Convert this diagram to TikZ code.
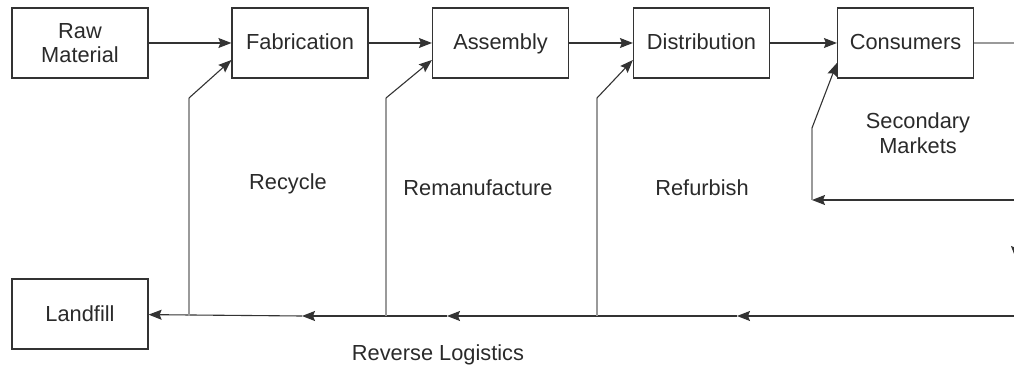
\documentclass[tikz,border=0pt]{standalone}
\usepackage{fontspec}
\setmainfont{Liberation Sans}
\usetikzlibrary{arrows.meta}

\definecolor{ink}{HTML}{2A2A2A}
\definecolor{wire}{HTML}{333333}
\definecolor{pale}{HTML}{9A9A9A}

\tikzset{
  stage/.style={draw=wire, line width=1.2pt, minimum width=136pt, minimum height=70pt,
                inner sep=0pt, align=center, text=ink,
                text height=15.6pt, text depth=1.6pt},
  twoline/.style={text height=, text depth=},
  label/.style={text=ink, align=center, inner sep=0pt},
  flow/.style={draw=wire, line width=1.1pt, -{Stealth[length=13pt,width=10pt,inset=2pt]}},
  plain/.style={draw=wire, line width=1.1pt},
  faint/.style={draw=pale, line width=1.1pt},
}

\begin{document}
\begin{tikzpicture}[x=1pt, y=-1pt, font=\fontsize{21.8}{24.5}\selectfont]
  \useasboundingbox (0,0) rectangle (1014,371);

  % forward supply chain
  \node[stage, twoline] (raw) at (80,43) {Raw\\Material};
  \node[stage] (fab)  at (300,43)   {Fabrication};
  \node[stage] (asm)  at (500.5,43) {Assembly};
  \node[stage] (dist) at (701.5,43) {Distribution};
  \node[stage] (cons) at (905.5,43) {Consumers};
  \node[stage] (land) at (80,314)   {Landfill};

  \draw[flow] (raw) -- (fab);
  \draw[flow] (fab) -- (asm);
  \draw[flow] (asm) -- (dist);
  \draw[flow] (dist) -- (cons);

  % return loop on the right-hand side
  \coordinate (ne) at (1016,43);
  \coordinate (vm) at (1016,259);
  \coordinate (sm) at (1016,200);
  \coordinate (se) at (1016,316);
  \draw[faint] (cons) -- (ne);
  \draw[flow] (ne) -- (vm);
  \draw[plain] (vm) -- (se);

  % secondary markets
  \coordinate (r4) at (812,200);
  \coordinate (k4) at (812,128);
  \draw[flow] (sm) -- (r4);
  \draw[faint] (r4) -- (k4);
  \draw[flow] (k4) -- ([yshift=-20pt]cons.west);

  % reverse logistics line
  \coordinate (b1) at (737,316);
  \coordinate (j3) at (597,316);
  \coordinate (b2) at (447,316);
  \coordinate (j2) at (386,316);
  \coordinate (b3) at (302,316);
  \coordinate (j1) at (189,316);
  \draw[flow] (se) -- (b1);
  \draw[flow] (b1) -- (b2);
  \draw[flow] (b2) -- (b3);
  \draw[flow] (b3) -- (land);

  % feedback branches into the chain
  \coordinate (k1) at (189,98);
  \coordinate (k2) at (386,98);
  \coordinate (k3) at (597,98);
  \draw[faint] (j1) -- (k1);
  \draw[faint] (j2) -- (k2);
  \draw[faint] (j3) -- (k3);
  \draw[flow] (k1) -- ([yshift=-17pt]fab.west);
  \draw[flow] (k2) -- ([yshift=-17pt]asm.west);
  \draw[flow] (k3) -- ([yshift=-17pt]dist.west);

  % labels
  \node[label] (lrec) at (288,184) {Recycle};
  \node[label] (lrem) at (478,188) {Remanufacture};
  \node[label] (lref) at (702,188) {Refurbish};
  \node[label] (lsec) at (918,133) {Secondary\\Markets};
  \node[label] (lrev) at (438,355) {Reverse Logistics};
\end{tikzpicture}
\end{document}
